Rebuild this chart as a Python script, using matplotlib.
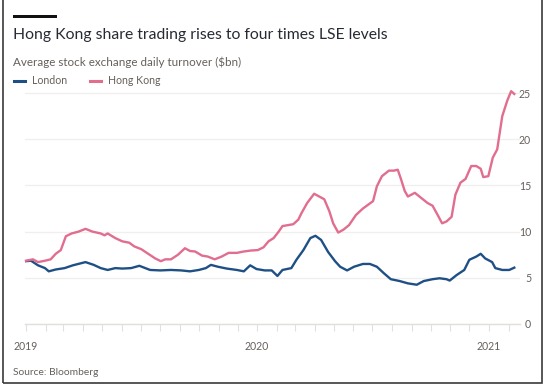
import matplotlib
matplotlib.use("Agg")
import matplotlib.pyplot as plt
import matplotlib.dates as mdates
from matplotlib.patches import Rectangle
import pandas as pd

# values ($bn)
hk_dates = ["2019-01-01", "2019-01-12", "2019-01-20", "2019-01-31", "2019-02-09", "2019-02-17",
            "2019-02-25", "2019-03-05", "2019-03-14", "2019-03-25", "2019-04-05", "2019-04-16",
            "2019-04-29", "2019-05-05", "2019-05-10", "2019-05-22", "2019-06-02", "2019-06-13",
            "2019-06-21", "2019-07-02", "2019-07-13", "2019-07-24", "2019-08-02", "2019-08-09",
            "2019-08-18", "2019-08-29", "2019-09-09", "2019-09-17", "2019-09-25", "2019-10-06",
            "2019-10-15", "2019-10-26", "2019-11-06", "2019-11-17", "2019-11-30", "2019-12-11",
            "2019-12-22", "2020-01-02", "2020-01-11", "2020-01-19", "2020-01-27", "2020-02-04",
            "2020-02-10", "2020-02-27", "2020-03-06", "2020-03-11", "2020-03-20", "2020-03-31",
            "2020-04-08", "2020-04-16", "2020-04-24", "2020-04-30", "2020-05-08", "2020-05-16",
            "2020-05-25", "2020-06-05", "2020-06-16", "2020-06-24", "2020-07-02", "2020-07-08",
            "2020-07-16", "2020-07-27", "2020-08-04", "2020-08-10", "2020-08-15", "2020-08-21",
            "2020-08-26", "2020-09-06", "2020-09-15", "2020-09-26", "2020-10-04", "2020-10-12",
            "2020-10-19", "2020-10-26", "2020-11-03", "2020-11-09", "2020-11-17", "2020-11-25",
            "2020-12-04", "2020-12-12", "2020-12-19", "2020-12-23", "2020-12-31", "2021-01-07",
            "2021-01-14", "2021-01-22", "2021-01-30", "2021-02-05", "2021-02-10"]
hk_values = [6.85, 7.0, 6.7, 6.85, 7.0, 7.6, 8.0, 9.5, 9.8, 10.0, 10.3, 10.0, 9.8, 9.6, 9.8, 9.3,
             8.95, 8.8, 8.4, 8.1, 7.6, 7.1, 6.8, 7.0, 7.0, 7.5, 8.2, 7.9, 7.85, 7.4, 7.3, 7.0,
             7.3, 7.7, 7.7, 7.85, 7.95, 8.0, 8.3, 8.95, 9.3, 10.0, 10.6, 10.8, 11.3, 12.0, 13.1,
             14.1, 13.8, 13.5, 12.2, 10.9, 9.9, 10.2, 10.7, 11.8, 12.5, 12.9, 13.3, 14.9, 16.0,
             16.6, 16.6, 16.7, 15.7, 14.4, 13.8, 14.2, 13.7, 13.1, 12.8, 11.8, 10.9, 11.1, 11.6,
             14.0, 15.3, 15.7, 17.1, 17.1, 16.8, 15.9, 16.0, 18.0, 18.9, 22.5, 24.2, 25.2, 24.9]

ldn_dates = ["2019-01-01", "2019-01-09", "2019-01-20", "2019-01-31", "2019-02-06", "2019-02-17",
             "2019-03-03", "2019-03-16", "2019-04-05", "2019-04-18", "2019-04-29", "2019-05-10",
             "2019-05-22", "2019-06-02", "2019-06-16", "2019-06-29", "2019-07-16", "2019-08-01",
             "2019-08-18", "2019-09-03", "2019-09-17", "2019-10-01", "2019-10-12", "2019-10-20",
             "2019-10-31", "2019-11-14", "2019-11-30", "2019-12-11", "2019-12-21", "2019-12-31",
             "2020-01-13", "2020-01-24", "2020-02-02", "2020-02-10", "2020-02-24", "2020-03-03",
             "2020-03-14", "2020-03-25", "2020-04-02", "2020-04-11", "2020-04-22", "2020-05-03",
             "2020-05-11", "2020-05-22", "2020-06-02", "2020-06-16", "2020-06-27", "2020-07-08",
             "2020-07-19", "2020-07-30", "2020-08-13", "2020-08-26", "2020-09-09", "2020-09-20",
             "2020-10-04", "2020-10-15", "2020-10-26", "2020-10-31", "2020-11-11", "2020-11-23",
             "2020-12-01", "2020-12-12", "2020-12-19", "2020-12-26", "2021-01-06", "2021-01-11",
             "2021-01-22", "2021-02-02", "2021-02-10"]
ldn_values = [6.8, 6.85, 6.35, 6.05, 5.7, 5.9, 6.05, 6.35, 6.7, 6.4, 6.05, 5.85, 6.05, 6.0, 6.05,
              6.3, 5.85, 5.8, 5.85, 5.8, 5.7, 5.85, 6.05, 6.4, 6.2, 6.0, 5.85, 5.7, 6.35, 5.95,
              5.8, 5.8, 5.2, 5.85, 6.05, 6.95, 8.0, 9.3, 9.55, 9.1, 7.8, 6.8, 6.2, 5.8, 6.2, 6.5,
              6.5, 6.2, 5.5, 4.85, 4.65, 4.4, 4.25, 4.65, 4.85, 4.95, 4.85, 4.7, 5.3, 5.85, 6.95,
              7.3, 7.6, 7.1, 6.7, 6.05, 5.85, 5.85, 6.1]

y_ticks = [0, 5, 10, 15, 20, 25]

LONDON = "#1f5085"
HONGKONG = "#e16d8f"
INK = "#262a33"
GREY = "#66605c"

plt.rcParams["font.family"] = ["Lato", "DejaVu Sans"]

W, H = 547, 388
fig = plt.figure(figsize=(W / 100, H / 100), dpi=100)
fig.patch.set_facecolor("white")


def fx(px):
    return px / W


def fy(py):
    return 1 - py / H


ax = fig.add_axes([fx(24.7), fy(324), fx(520) - fx(24.7), (324 - 83.8) / H])
ax.set_facecolor("white")

ax.plot(pd.to_datetime(ldn_dates), ldn_values, color=LONDON, lw=1.7, solid_joinstyle="round")
ax.plot(pd.to_datetime(hk_dates), hk_values, color=HONGKONG, lw=1.7, solid_joinstyle="round",
        clip_on=False)

ax.set_xlim(pd.Timestamp("2018-12-30"), pd.Timestamp("2021-02-19"))
ax.set_ylim(0, 26)

for s in ["top", "left", "right"]:
    ax.spines[s].set_visible(False)
ax.spines["bottom"].set_color("#e3e0dc")
ax.spines["bottom"].set_linewidth(1)

ax.yaxis.tick_right()
ax.set_yticks(y_ticks)
ax.tick_params(axis="y", length=0, pad=8, labelsize=7.6, labelcolor=GREY)
for lab in ax.get_yticklabels():
    lab.set_horizontalalignment("right")
ax.grid(axis="y", color="#f1efed", lw=0.9)
ax.set_axisbelow(True)

ax.xaxis.set_major_locator(mdates.YearLocator())
ax.xaxis.set_major_formatter(mdates.DateFormatter("%Y"))
ax.xaxis.set_minor_locator(mdates.MonthLocator())
ax.tick_params(axis="x", which="both", length=5, width=0.8, color="#e3e0dc",
               labelsize=7.6, labelcolor=GREY, pad=7)

# header
fig.add_artist(Rectangle((fx(13), fy(17.5)), fx(57) - fx(13), 3 / H,
                         transform=fig.transFigure, color="#111111", lw=0))
fig.text(fx(13), fy(39.5), "Hong Kong share trading rises to four times LSE levels",
         fontsize=11.3, color=INK, va="baseline")
fig.text(fx(13), fy(66.5), "Average stock exchange daily turnover ($bn)",
         fontsize=8.4, color=GREY, va="baseline")

# legend
fig.add_artist(plt.Line2D([fx(14), fx(24.5)], [fy(80.5), fy(80.5)], color=LONDON, lw=2.2))
fig.text(fx(32), fy(84), "London", fontsize=7.6, color=GREY, va="baseline")
fig.add_artist(plt.Line2D([fx(90), fx(101)], [fy(80.5), fy(80.5)], color=HONGKONG, lw=2.2))
fig.text(fx(107.5), fy(84), "Hong Kong", fontsize=7.6, color=GREY, va="baseline")

fig.text(fx(13), fy(375), "Source: Bloomberg", fontsize=7.4, color=GREY, va="baseline")

# frame around the graphic
fig.add_artist(Rectangle((fx(3), fy(383)), fx(542) - fx(3), (383 + 2) / H,
                         transform=fig.transFigure, fill=False, edgecolor="#3a3a3a", lw=1.2))

fig.savefig("out.png", dpi=100, facecolor="white")
